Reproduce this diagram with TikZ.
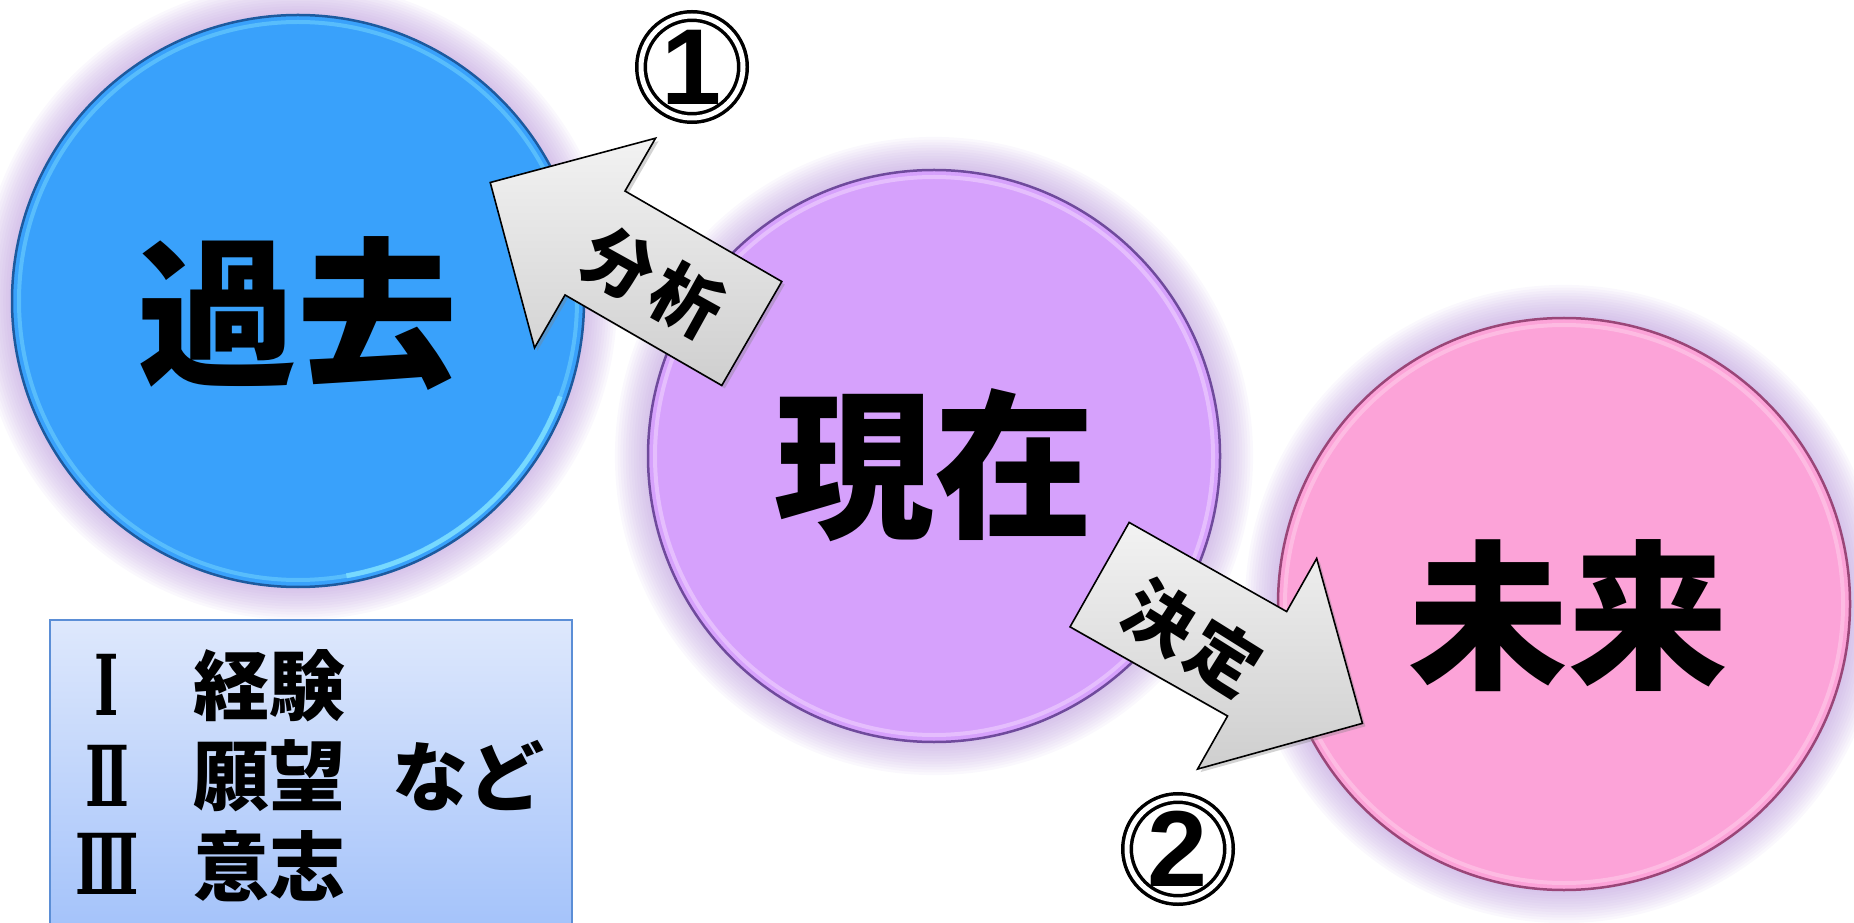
\documentclass[tikz,border=0pt]{standalone}
\usepackage{fontspec}
\newfontfamily\jpfont{Noto Sans CJK JP}
\newfontfamily\numfont{Liberation Sans}
\newfontfamily\romanfont{DejaVu Serif}
\usetikzlibrary{shadows}
\definecolor{pastblue}{HTML}{39A1FB}
\definecolor{pastedge}{HTML}{1D5A9E}
\definecolor{pastrim}{HTML}{7FE0FF}
\definecolor{nowviolet}{HTML}{D6A1FC}
\definecolor{nowedge}{HTML}{6F4A9C}
\definecolor{nowrim}{HTML}{EFD2FF}
\definecolor{futurepink}{HTML}{FCA3D8}
\definecolor{futureedge}{HTML}{9A4678}
\definecolor{futurerim}{HTML}{FFCBEA}
\definecolor{glowlilac}{HTML}{B28ED8}
\definecolor{legendtop}{HTML}{DEE8FC}
\definecolor{legendbottom}{HTML}{A3C2FA}
\definecolor{legendedge}{HTML}{5B8ED6}
\colorlet{arrowlight}{gray!10}
\colorlet{arrowdark}{gray!38}

\begin{document}
\begin{tikzpicture}[x=1pt,y=1pt,
    ball/.style={circle,inner sep=0pt,minimum size=572pt,line width=2.5pt},
    bigword/.style={font=\jpfont\bfseries\fontsize{160}{160}\selectfont},
    arrowword/.style={font=\jpfont\bfseries\fontsize{70}{70}\selectfont,inner sep=0pt},
    listword/.style={font=\jpfont\bfseries\fontsize{76}{76}\selectfont,inner sep=0pt},
    romanword/.style={font=\romanfont\bfseries\fontsize{84}{84}\selectfont,inner sep=0pt,xscale=0.62},
    blockarrow/.style={draw=black,line width=1.6pt,line join=miter,top color=arrowlight,bottom color=arrowdark,
        drop shadow={opacity=0.35,shadow xshift=3pt,shadow yshift=-3pt}},
    numring/.style={circle,draw=black,double=white,double distance=5pt,line width=3.5pt,fill=white,
        minimum size=102pt,inner sep=0pt,font=\numfont\bfseries\fontsize{108}{108}\selectfont}]
    \useasboundingbox (0,0) rectangle (1854,922);
    \clip (0,0) rectangle (1854,922);
    \coordinate(P) at (298,621);
    \coordinate(N) at (934,466);
    \coordinate(F) at (1564,318);
    \foreach \c in {P,N,F}
        \foreach \i in {1,...,13}
            \fill[glowlilac,opacity=0.06] (\c) circle[radius={284+2.7*\i}];
    \node[ball,fill=pastblue,draw=pastedge] (past) at (P) {};
    \node[ball,fill=nowviolet,draw=nowedge] (now) at (N) {};
    \node[ball,fill=futurepink,draw=futureedge] (future) at (F) {};
    \draw[pastrim,line width=4pt,opacity=0.45] (past.center) circle[radius=279];
    \draw[nowrim,line width=4pt,opacity=0.6] (now.center) circle[radius=279];
    \draw[futurerim,line width=4pt,opacity=0.6] (future.center) circle[radius=279];
    \draw[pastrim,line width=5pt,opacity=0.8] (past.center) ++(-80:279) arc[start angle=-80,end angle=-20,radius=279];
    \node[bigword] (pastword) at (297,608) {過去};
    \node[bigword] (nowword) at (934,457) {現在};
    \node[bigword] (futureword) at (1568,306) {未来};
    \begin{scope}[shift={(621,664)},rotate=150]
        \draw[blockarrow] (-151,-60)--(30,-60)--(30,-121)--(151,0)--(30,121)--(30,60)--(-151,60)--cycle;
    \end{scope}
    \begin{scope}[shift={(1231,273)},rotate=-29.5]
        \draw[blockarrow] (-151,-60)--(30,-60)--(30,-121)--(151,0)--(30,121)--(30,60)--(-151,60)--cycle;
    \end{scope}
    \node[arrowword,rotate=-29] (analysis) at (653,640) {分\kern8pt析};
    \node[arrowword,rotate=-32] (decision) at (1192,284) {決\kern6pt定};
    \node[numring] (one) at (692,855) {1};
    \node[numring] (two) at (1178,73) {2};
    \draw[draw=legendedge,line width=1.5pt,top color=legendtop,bottom color=legendbottom] (50,302) rectangle (572,-12);
    \node[romanword] (r1) at (107,237) {Ⅰ};
    \node[romanword] (r2) at (107,146) {Ⅱ};
    \node[romanword] (r3) at (107,58) {Ⅲ};
    \node[listword,anchor=west] (w1) at (193,236) {経験};
    \node[listword,anchor=west] (w2) at (193,146) {願望};
    \node[listword,anchor=west] (w3) at (193,56) {意志};
    \node[listword,anchor=west] (etc) at (392,146) {など};
\end{tikzpicture}
\end{document}
